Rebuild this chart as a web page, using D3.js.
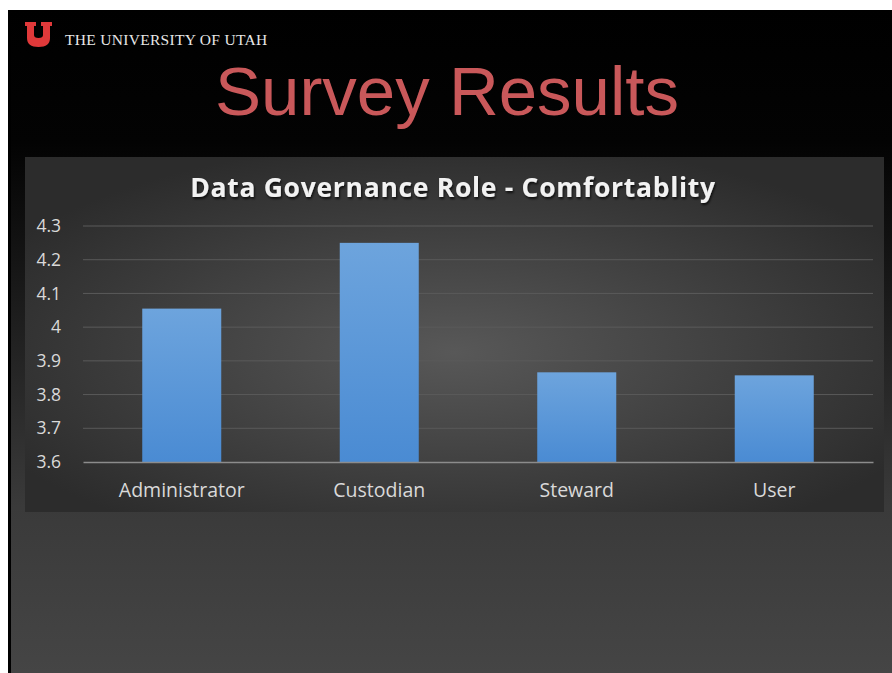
<!DOCTYPE html>
<html>
<head>
<meta charset="utf-8">
<script src="https://cdn.jsdelivr.net/npm/d3@7"></script>
<style>
  body { margin: 0; background: #fff; }
  svg { display: block; }
</style>
</head>
<body>
<div id="chart"></div>
<script>
// chart values
var categories = ["Administrator", "Custodian", "Steward", "User"];
var scores = [4.055, 4.25, 3.866, 3.857];
var yTicks = [3.6, 3.7, 3.8, 3.9, 4, 4.1, 4.2, 4.3];
var slideTitle = "Survey Results";
var chartTitle = "Data Governance Role - Comfortablity";
var brand = "THE UNIVERSITY OF UTAH";

var W = 892, H = 673;

var svg = d3.select("#chart")
  .append("svg")
  .attr("width", W)
  .attr("height", H);

var defs = svg.append("defs");

var slideGrad = defs.append("linearGradient")
  .attr("id", "slideGrad").attr("x1", 0).attr("y1", 0).attr("x2", 0).attr("y2", 1);
slideGrad.append("stop").attr("offset", "0").attr("stop-color", "#000");
slideGrad.append("stop").attr("offset", "0.2").attr("stop-color", "#030303");
slideGrad.append("stop").attr("offset", "0.75").attr("stop-color", "#3a3a3a");
slideGrad.append("stop").attr("offset", "1").attr("stop-color", "#454545");

var panelGrad = defs.append("radialGradient")
  .attr("id", "panelGrad").attr("cx", "0.5").attr("cy", "0.55").attr("r", "0.6");
panelGrad.append("stop").attr("offset", "0").attr("stop-color", "#585858");
panelGrad.append("stop").attr("offset", "1").attr("stop-color", "#2c2c2c");

var barGrad = defs.append("linearGradient")
  .attr("id", "barGrad").attr("x1", 0).attr("y1", 0).attr("x2", 0).attr("y2", 1);
barGrad.append("stop").attr("offset", "0").attr("stop-color", "#6da4dd");
barGrad.append("stop").attr("offset", "1").attr("stop-color", "#4a8bd3");

var shadow = defs.append("filter").attr("id", "shadow")
  .attr("x", "-5%").attr("y", "-20%").attr("width", "110%").attr("height", "150%");
shadow.append("feDropShadow").attr("dx", 1).attr("dy", 2)
  .attr("stdDeviation", 1.2).attr("flood-color", "#000").attr("flood-opacity", 0.7);

// slide background
svg.append("rect")
  .attr("x", 8).attr("y", 10).attr("width", W - 8).attr("height", H - 10)
  .attr("fill", "url(#slideGrad)");
svg.append("rect")
  .attr("x", 8).attr("y", 10).attr("width", 3).attr("height", H - 10)
  .attr("fill", "#000");

// logo block U
var u = svg.append("g").attr("transform", "translate(25,22)");
u.append("path")
  .attr("d", "M0,0 H11 V4 H9 V13 Q9,16 13.5,16 Q18,16 18,13 V4 H16 V0 H27 V4 H25 V16 Q25,25 13.5,25 Q2,25 2,16 V4 H0 Z")
  .attr("fill", "#e0393a");

svg.append("text")
  .attr("x", 65).attr("y", 45)
  .attr("font-family", "Liberation Serif, DejaVu Serif, serif")
  .attr("font-size", 15.5)
  .attr("letter-spacing", 0.3)
  .attr("fill", "#e8e8e8")
  .text(brand);

svg.append("text")
  .attr("x", 447).attr("y", 115)
  .attr("text-anchor", "middle")
  .attr("font-family", "Liberation Sans, Arial, sans-serif")
  .attr("font-size", 69)
  .attr("fill", "#c9585a")
  .text(slideTitle);

// chart panel
var panel = {x: 25, y: 157, w: 859, h: 355};
svg.append("rect")
  .attr("x", panel.x).attr("y", panel.y)
  .attr("width", panel.w).attr("height", panel.h)
  .attr("fill", "url(#panelGrad)");

svg.append("text")
  .attr("x", 453).attr("y", 197)
  .attr("text-anchor", "middle")
  .attr("font-family", "Open Sans, sans-serif")
  .attr("font-weight", "bold")
  .attr("font-size", 26.5)
  .attr("letter-spacing", 0.7)
  .attr("fill", "#f2f2f2")
  .attr("filter", "url(#shadow)")
  .text(chartTitle);

var plot = {left: 83, right: 873, top: 226, bottom: 462};

var x = d3.scaleBand()
  .domain(categories)
  .range([plot.left, plot.right])
  .paddingInner(0.6)
  .paddingOuter(0.3);

var y = d3.scaleLinear()
  .domain([3.6, 4.3])
  .range([plot.bottom, plot.top]);

// gridlines
svg.append("g")
  .selectAll("line")
  .data(yTicks.slice(1))
  .enter()
  .append("line")
    .attr("x1", plot.left).attr("x2", plot.right)
    .attr("y1", function (d) { return y(d); })
    .attr("y2", function (d) { return y(d); })
    .attr("stroke", "#5a5a5a")
    .attr("stroke-width", 1);

// y axis labels
var yAxis = svg.append("g")
  .attr("transform", "translate(" + plot.left + ",0)")
  .call(d3.axisLeft(y).tickValues(yTicks).tickSize(0).tickPadding(22)
    .tickFormat(function (d) { return String(+d.toFixed(1)); }));
yAxis.select(".domain").remove();
yAxis.selectAll("text")
  .attr("font-family", "Open Sans, sans-serif")
  .attr("font-size", 17.5)
  .attr("fill", "#d9d9d9");

// bars
svg.append("g")
  .selectAll("rect")
  .data(scores)
  .enter()
  .append("rect")
    .attr("x", function (d, i) { return x(categories[i]); })
    .attr("y", function (d) { return y(d); })
    .attr("width", x.bandwidth())
    .attr("height", function (d) { return y(3.6) - y(d); })
    .attr("fill", "url(#barGrad)");

// x axis
var xAxis = svg.append("g")
  .attr("transform", "translate(0," + plot.bottom + ")")
  .call(d3.axisBottom(x).tickSize(0).tickPadding(21));
xAxis.select(".domain")
  .attr("stroke", "#8c8c8c")
  .attr("stroke-width", 1.5);
xAxis.selectAll("text")
  .attr("font-family", "Open Sans, sans-serif")
  .attr("font-size", 19.5)
  .attr("fill", "#d9d9d9");
</script>
</body>
</html>
